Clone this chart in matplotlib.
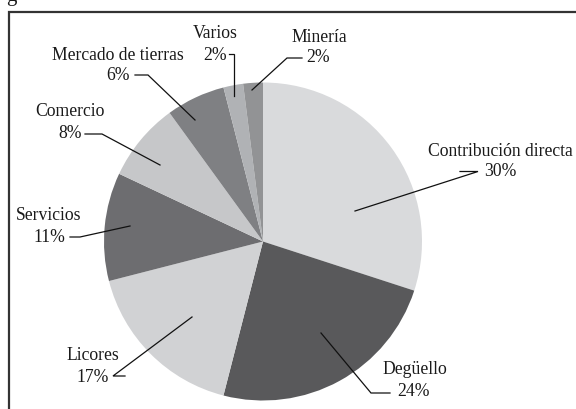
import matplotlib
matplotlib.use("Agg")
import matplotlib.pyplot as plt

categories = ["Contribución directa", "Degüello", "Licores", "Servicios",
              "Comercio", "Mercado de tierras", "Varios", "Minería"]
values = [30, 24, 17, 11, 8, 6, 2, 2]
colors = ["#d9dadc", "#59595b", "#d1d2d4", "#6d6d70",
          "#c6c7c9", "#7f8083", "#b0b2b5", "#929395"]

W, H = 576, 409
fig = plt.figure(figsize=(W / 100, H / 100), dpi=100)
ax = fig.add_axes([0, 0, 1, 1])

def Y(y):
    return H - y

cx, cy, r = 263, 241.5, 159
ax.pie(values, colors=colors, startangle=90, counterclock=False,
       center=(cx, Y(cy)), radius=r, frame=True,
       wedgeprops=dict(linewidth=0))
ax.set_xlim(0, W)
ax.set_ylim(0, H)
ax.set_aspect("auto")
ax.axis("off")

font = dict(family="Liberation Serif", fontsize=12.7, color="#1a1a1a")

# label layout: (name x center, name y, pct x center, pct y, leader points)
layout = [
    (500, 152, 500, 172, [(460, 171.5), (478, 171.5), (355, 211)]),
    (415, 370, 414, 392, [(390, 393), (371, 393), (321, 333)]),
    (93, 356, 93, 377, [(125, 376), (113, 376), (192, 317)]),
    (49, 215, 49, 237, [(70, 237), (80, 237), (130, 226)]),
    (70, 112, 70, 134, [(85, 134), (102, 134), (160, 165)]),
    (118, 55, 118, 76, [(135, 75), (148, 75), (195, 120)]),
    (215, 34, 215, 55, [(229, 53.5), (234, 53.5), (234, 96)]),
    (319, 37, 318, 58, [(302, 58), (287, 58), (252, 90)]),
]
for name, v, (nx, ny, px, py, pts) in zip(categories, values, layout):
    ax.text(nx, Y(ny), name, ha="center", va="center", **font)
    ax.text(px, Y(py), f"{v}%", ha="center", va="center", **font)
    xs = [p[0] for p in pts]
    ys = [Y(p[1]) for p in pts]
    ax.plot(xs, ys, color="#111111", linewidth=0.9, solid_joinstyle="miter")

# frame (left and top edges)
ax.plot([8.5, 8.5, W], [0, Y(11.5), Y(11.5)], color="#333333", linewidth=1.6,
        solid_joinstyle="miter")
# partially visible title above the frame (cut off in the original)
ax.text(6, Y(1), "g", ha="left", va="baseline", family="Liberation Serif",
        fontsize=15, color="#1a1a1a")

fig.savefig("out.png", dpi=100)
